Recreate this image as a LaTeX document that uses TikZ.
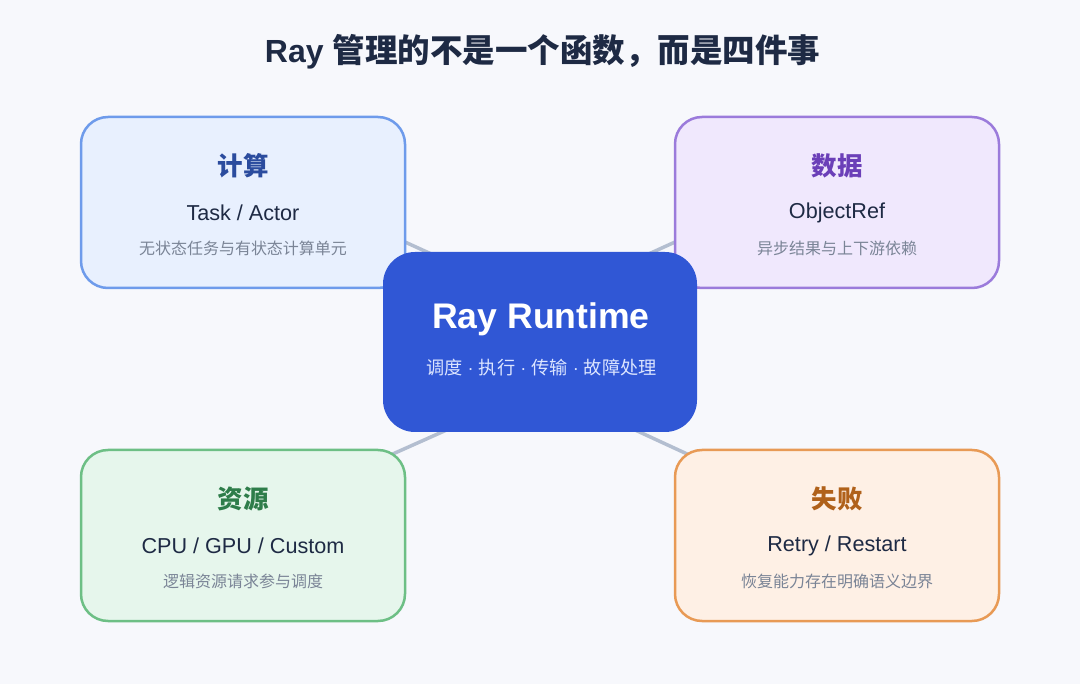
\documentclass[tikz,border=0pt]{standalone}
\usepackage{fontspec}
\setmainfont{Liberation Sans}
\newfontfamily\cjkfont{Noto Sans CJK SC}
\definecolor{bgc}{HTML}{F7F8FC}
\definecolor{ink}{HTML}{1E2A44}
\definecolor{subc}{HTML}{7A8496}
\definecolor{linkc}{HTML}{B3BED0}
\definecolor{corec}{HTML}{3057D5}
\definecolor{coresub}{HTML}{DCE5FF}
\definecolor{blueb}{HTML}{6E9BEB}\definecolor{bluef}{HTML}{E8F0FE}\definecolor{bluet}{HTML}{2B4C9E}
\definecolor{purpb}{HTML}{9B7BDB}\definecolor{purpf}{HTML}{F0E8FD}\definecolor{purpt}{HTML}{6B3FB8}
\definecolor{greenb}{HTML}{6DBF85}\definecolor{greenf}{HTML}{E6F6EC}\definecolor{greent}{HTML}{2E7D4A}
\definecolor{orangeb}{HTML}{E89A55}\definecolor{orangef}{HTML}{FEF0E5}\definecolor{oranget}{HTML}{B0611A}
\tikzset{
  card/.style={draw, rounded corners=27pt, line width=2.5pt,
    minimum width=324pt, minimum height=171pt, inner sep=0pt},
  core/.style={fill=corec, rounded corners=32pt,
    minimum width=314pt, minimum height=180pt, inner sep=0pt},
  link/.style={draw=linkc, line width=3.5pt},
  cardtitle/.style={inner sep=0pt, font=\cjkfont\bfseries\fontsize{25.5}{30}\selectfont},
  cardmain/.style={inner sep=0pt, text=ink, font=\fontsize{21.6}{26}\selectfont},
  cardnote/.style={inner sep=0pt, text=subc, font=\cjkfont\fontsize{16}{19}\selectfont},
}
\begin{document}
\begin{tikzpicture}[x=1pt, y=-1pt]
  \fill[bgc] (0,0) rectangle (1080,684);
  \useasboundingbox (0,0) rectangle (1080,684);

  % heading
  \node[inner sep=0pt, text=ink, font=\bfseries\fontsize{32}{38}\selectfont] (head) at (542.5,52)
    {Ray {\cjkfont\fontsize{32.5}{38}\selectfont 管理的不是一个函数，而是四件事}};

  % link end points, hidden beneath the boxes
  \coordinate (tlA) at (330,208);  \coordinate (tlB) at (460,267);
  \coordinate (trA) at (750,208);  \coordinate (trB) at (620,267);
  \coordinate (blA) at (330,482);  \coordinate (blB) at (460,424);
  \coordinate (brA) at (750,483);  \coordinate (brB) at (620,423);
  \draw[link] (tlA) -- (tlB);
  \draw[link] (trA) -- (trB);
  \draw[link] (blA) -- (blB);
  \draw[link] (brA) -- (brB);

  % four cards
  \node[card, draw=blueb, fill=bluef] (comp) at (243,202.5) {};
  \node[card, draw=purpb, fill=purpf] (data) at (837,202.5) {};
  \node[card, draw=greenb, fill=greenf] (res) at (243,535.5) {};
  \node[card, draw=orangeb, fill=orangef] (fail) at (837,535.5) {};

  % runtime core
  \node[core] (rt) at (540,342) {};
  \node[inner sep=0pt, text=white, font=\bfseries\fontsize{35.6}{42}\selectfont] (rtT) at (541,319) {Ray Runtime};
  \node[inner sep=0pt, text=coresub, font=\fontsize{18.2}{22}\selectfont] (rtS) at (541.5,368)
    {{\cjkfont 调度} · {\cjkfont 执行} · {\cjkfont 传输} · {\cjkfont 故障处理}};

  % card texts
  \node[cardtitle, text=bluet] (compT) at (243,166) {计算};
  \node[cardmain] (compM) at (243,213) {Task / Actor};
  \node[cardnote] (compN) at (243,248) {无状态任务与有状态计算单元};

  \node[cardtitle, text=purpt] (dataT) at (837,166) {数据};
  \node[cardmain] (dataM) at (837,213) {ObjectRef};
  \node[cardnote] (dataN) at (837,248) {异步结果与上下游依赖};

  \node[cardtitle, text=greent] (resT) at (243,499) {资源};
  \node[cardmain] (resM) at (243,546) {CPU / GPU / Custom};
  \node[cardnote] (resN) at (243,581) {逻辑资源请求参与调度};

  \node[cardtitle, text=oranget] (failT) at (837,499) {失败};
  \node[cardmain] (failM) at (837,546) {Retry / Restart};
  \node[cardnote] (failN) at (837,581) {恢复能力存在明确语义边界};
\end{tikzpicture}
\end{document}
